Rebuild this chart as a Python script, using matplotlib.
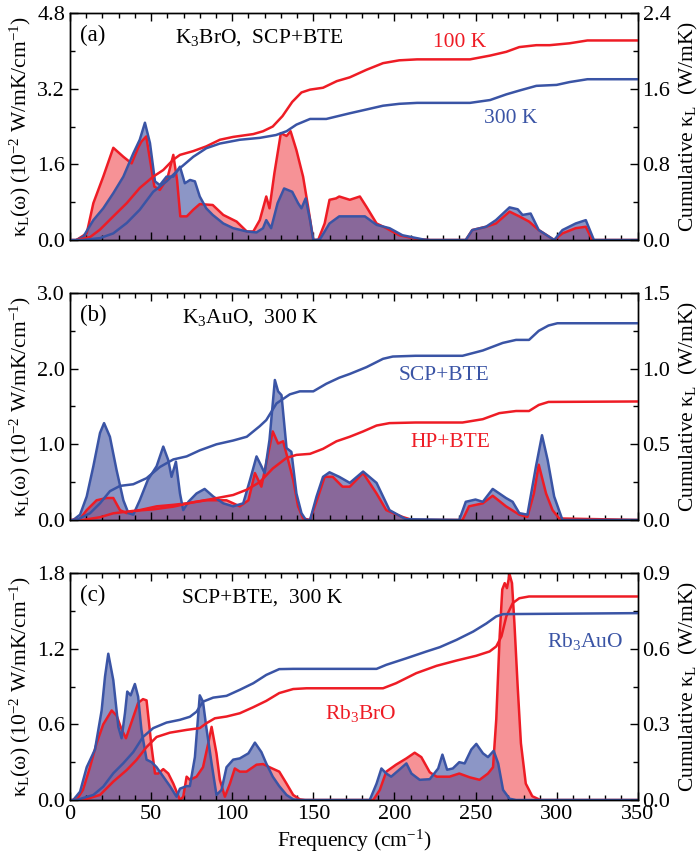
import numpy as np
import matplotlib
matplotlib.use("Agg")
import matplotlib.pyplot as plt
from matplotlib.ticker import MultipleLocator, FormatStrFormatter

plt.rcParams['font.family'] = ['Liberation Serif', 'DejaVu Serif']
plt.rcParams['mathtext.fontset'] = 'custom'
plt.rcParams['mathtext.rm'] = 'Liberation Serif'
plt.rcParams['mathtext.it'] = 'Liberation Serif:italic'

RED = '#EE1C25'
BLUE = '#3A54A5'

# ---- panel (a): K3BrO, SCP+BTE, 100 K (red) vs 300 K (blue) ----
a_red_f = [4, 10.3, 14.4, 20.5, 26.7, 32.9, 38, 42, 44, 47, 52, 55.4, 60, 63.7, 66, 68, 72, 76, 80, 88,
           94.5, 102.7, 109, 113, 117, 121, 123, 126, 130, 133.5, 136, 139.6, 143.7, 146.8, 150, 153,
           157, 160, 164, 166, 172.5, 178.7, 182.8, 189, 195, 203, 214, 222, 244, 248, 256.5, 262.6,
           271, 277, 283, 289, 298.5, 303.6, 311.8, 318, 322, 350]
a_red_k = [0, 0.14, 0.78, 1.34, 1.95, 1.76, 1.62, 1.95, 2.08, 2.19, 1.13, 1.06, 1.3, 1.8, 1.27, 0.5, 0.5,
           0.64, 0.76, 0.74, 0.53, 0.39, 0.18, 0.18, 0.42, 0.92, 0.67, 1.41, 2.26, 2.2, 2.3, 1.9, 1.34,
           0.7, 0, 0, 0.35, 0.85, 0.88, 0.92, 0.85, 0.92, 0.7, 0.35, 0.25, 0.1, 0.02, 0, 0, 0.21, 0.28,
           0.35, 0.6, 0.5, 0.39, 0.21, 0, 0.14, 0.25, 0.28, 0, 0]
a_blue_f = [4, 8.2, 14.4, 20.5, 26.7, 32.9, 39, 43, 46.2, 49.3, 52.4, 55.4, 59.5, 63.7, 67.8, 70.8, 74,
            77, 80, 84, 88, 94.5, 100.6, 109, 115, 119, 121, 124, 128, 132, 137, 140.6, 142.7, 145.3,
            148, 150, 154, 160, 166, 172.5, 181.8, 189, 197, 205, 218, 222, 244, 248, 256.5, 262.6,
            271, 276, 279, 284, 289, 298.5, 303.6, 311.8, 318, 323, 350]
a_blue_k = [0, 0.07, 0.42, 0.67, 0.99, 1.34, 1.83, 2.12, 2.48, 2.05, 1.24, 1.16, 1.34, 1.34, 1.55, 1.2,
            1.27, 1.24, 0.92, 0.67, 0.53, 0.35, 0.25, 0.18, 0.16, 0.25, 0.42, 0.25, 0.78, 1.09, 1.02,
            0.78, 0.67, 0.88, 0.42, 0, 0.01, 0.35, 0.5, 0.5, 0.5, 0.32, 0.25, 0.1, 0.01, 0, 0, 0.21,
            0.28, 0.42, 0.69, 0.65, 0.53, 0.56, 0.21, 0, 0.21, 0.35, 0.42, 0, 0]
a_red_cf = [0, 4, 12.3, 18.5, 26.7, 35, 43, 51.3, 57.5, 63.7, 67.8, 76, 84, 92.4, 100.6, 113, 119, 125,
            131, 137, 142.7, 148, 156, 164.5, 172.5, 182.8, 193, 203, 214, 226, 246.6, 259, 269, 277,
            287.5, 295.7, 308, 319, 350]
a_red_cum = [0, 0, 0.03, 0.11, 0.25, 0.39, 0.55, 0.67, 0.74, 0.85, 0.9, 0.94, 0.99, 1.06, 1.09, 1.12,
             1.15, 1.2, 1.31, 1.46, 1.56, 1.59, 1.61, 1.68, 1.72, 1.8, 1.87, 1.9, 1.91, 1.91, 1.91,
             1.95, 1.99, 2.04, 2.06, 2.06, 2.08, 2.11, 2.11]
a_blue_cf = [0, 8, 18.5, 26.7, 35, 43, 51.3, 59.5, 67.8, 76, 84, 92.4, 104.7, 117, 127, 133.5, 139.6,
             148, 158, 172.5, 182.8, 193, 203, 214, 246.6, 259, 269, 277, 287.5, 300, 308, 319, 350]
a_blue_cum = [0, 0, 0.02, 0.07, 0.18, 0.32, 0.51, 0.62, 0.76, 0.88, 0.97, 1.02, 1.06, 1.08, 1.11, 1.15,
              1.22, 1.28, 1.28, 1.34, 1.38, 1.42, 1.44, 1.45, 1.45, 1.48, 1.54, 1.58, 1.63, 1.64,
              1.67, 1.70, 1.70]

# ---- panel (b): K3AuO, 300 K, SCP+BTE (blue) vs HP+BTE (red) ----
b_blue_f = [2, 6.2, 10.3, 14.4, 18.5, 21, 24.6, 28.7, 32.9, 36, 39, 43, 48, 53.4, 57.5, 60.6, 62.6,
            65.3, 67.8, 69.8, 73, 78, 83, 88.3, 94.5, 100.6, 106.8, 111, 115, 118, 120, 123, 126.3,
            128.3, 130.4, 133.5, 136.5, 139.6, 142.7, 145.4, 148, 152, 156, 160, 166, 172.5, 180.7,
            189, 197, 207, 240, 244, 250, 254.5, 260.6, 268.8, 272.9, 277, 282, 287.3, 291, 294.5,
            298.5, 303.6, 350]
b_blue_k = [0, 0.07, 0.31, 0.71, 1.15, 1.28, 1.1, 0.66, 0.26, 0.09, 0.07, 0.26, 0.53, 0.71, 0.97, 0.79,
            0.57, 0.77, 0.35, 0.13, 0.24, 0.35, 0.41, 0.31, 0.22, 0.18, 0.22, 0.53, 0.84, 0.71, 0.62,
            1.06, 1.85, 1.70, 1.65, 0.95, 0.9, 0.35, 0.09, 0, 0, 0.31, 0.57, 0.63, 0.57, 0.49, 0.64,
            0.49, 0.13, 0.01, 0, 0.24, 0.27, 0.24, 0.41, 0.29, 0.24, 0.09, 0.07, 0.71, 1.12, 0.79,
            0.31, 0, 0]
b_red_f = [2, 6, 10.3, 16.4, 22.6, 26.7, 30.8, 35, 43, 53.4, 63.7, 71.9, 84, 96.5, 104.7, 110, 114,
           118, 121, 125, 128.3, 131.4, 134.5, 137.6, 140.6, 143.7, 148, 153, 157, 162, 168, 172.5,
           180.7, 189, 195, 205, 211, 242, 246, 254.5, 260.6, 268.8, 277, 282, 286, 289, 293.5,
           297.5, 301.6, 350]
b_red_k = [0, 0.01, 0.13, 0.26, 0.29, 0.29, 0.13, 0.09, 0.13, 0.18, 0.2, 0.22, 0.26, 0.26, 0.18, 0.26,
           0.62, 0.44, 0.75, 1.17, 1.01, 1.04, 0.79, 0.53, 0.18, 0.02, 0, 0.31, 0.57, 0.57, 0.44,
           0.44, 0.62, 0.35, 0.13, 0.04, 0, 0, 0.18, 0.22, 0.32, 0.18, 0.07, 0.04, 0.35, 0.73, 0.35,
           0.13, 0.02, 0]
b_blue_cf = [0, 4, 12.3, 18.5, 24.6, 30.8, 39, 47.2, 55.4, 63.7, 71.9, 80, 90.3, 100.6, 109, 117, 121,
             127.3, 135.5, 141.7, 150, 158, 166, 172.5, 182.8, 193, 199, 213, 242, 254.5, 266.8, 275,
             283, 289, 295, 300.5, 350]
b_blue_cum = [0, 0, 0.044, 0.11, 0.19, 0.225, 0.236, 0.276, 0.35, 0.40, 0.42, 0.46, 0.50, 0.525,
              0.55, 0.62, 0.66, 0.77, 0.83, 0.85, 0.85, 0.90, 0.94, 0.965, 1.01, 1.065, 1.08, 1.085,
              1.085, 1.12, 1.17, 1.19, 1.19, 1.25, 1.285, 1.30, 1.30]
b_red_cf = [0, 8, 18.5, 26.7, 39, 51.3, 63.7, 76, 88.3, 100.6, 109, 117, 125, 133.5, 139.6, 148, 156,
            164.3, 172.5, 180.7, 189, 197, 213, 242, 254.5, 264.7, 275, 283, 289, 295, 350]
b_red_cum = [0, 0, 0.018, 0.044, 0.06, 0.07, 0.088, 0.117, 0.14, 0.165, 0.2, 0.25, 0.34, 0.41, 0.43,
             0.437, 0.47, 0.52, 0.55, 0.585, 0.624, 0.64, 0.644, 0.644, 0.666, 0.706, 0.72, 0.72,
             0.76, 0.78, 0.783]

# ---- panel (c): SCP+BTE, 300 K, Rb3AuO (blue) vs Rb3BrO (red) ----
c_blue_f = [2, 6.2, 10.3, 15.4, 19.5, 21.6, 23.6, 26.7, 29.8, 31.8, 33.9, 35.3, 37.4, 40, 42, 44, 47.2,
            50.3, 53.4, 57.5, 61.6, 65.7, 67.8, 71.9, 73.9, 77, 80, 82, 84, 87.3, 90.3, 93.4, 96.5,
            100.6, 104.7, 110, 114, 118, 121, 125, 129, 133.5, 137.6, 141, 184.8, 189, 192, 195, 198,
            203, 207.4, 210.5, 215.6, 221.8, 227, 229.6, 232.5, 236, 240, 243.3, 247.4, 250.5, 254.6,
            257.7, 261.2, 264, 267, 271, 275, 350]
c_blue_k = [0, 0.066, 0.26, 0.40, 0.71, 0.98, 1.16, 0.95, 0.58, 0.49, 0.69, 0.86, 0.83, 0.92, 0.82,
            0.56, 0.32, 0.30, 0.26, 0.185, 0.11, 0.026, 0.09, 0.11, 0.11, 0.34, 0.83, 0.78, 0.58,
            0.29, 0.04, 0.08, 0.26, 0.32, 0.33, 0.37, 0.455, 0.38, 0.29, 0.185, 0.11, 0.04, 0.005, 0,
            0, 0.13, 0.25, 0.21, 0.185, 0.24, 0.29, 0.21, 0.16, 0.165, 0.25, 0.36, 0.24, 0.25, 0.30,
            0.29, 0.40, 0.445, 0.37, 0.34, 0.39, 0.29, 0.08, 0.01, 0, 0]
c_red_f = [4, 8, 12.3, 16.4, 20.5, 25.7, 28.7, 31.8, 34.5, 38, 42, 45, 47.2, 50.3, 52.4, 54.4, 57.5,
           60.6, 63.7, 67.8, 69.8, 71.9, 73.9, 78, 82, 85.4, 87.3, 90.3, 92.4, 95.5, 98.6, 101.6,
           104.7, 108.8, 115, 119, 123, 129, 133.5, 137.6, 141.7, 145, 187, 191, 195, 201, 207.4,
           212.5, 216.6, 221.8, 226, 234, 240, 246.4, 252.5, 257.7, 260.8, 262.8, 264.9, 266.5, 268,
           269.4, 271, 272.5, 274, 276, 278, 281, 285, 290, 350]
c_red_k = [0, 0.08, 0.26, 0.45, 0.60, 0.71, 0.67, 0.56, 0.49, 0.62, 0.77, 0.80, 0.79, 0.42, 0.21, 0.21,
           0.245, 0.21, 0.13, 0, 0.026, 0.185, 0.16, 0.185, 0.26, 0.46, 0.58, 0.37, 0.16, 0.026, 0.13,
           0.25, 0.225, 0.225, 0.28, 0.285, 0.26, 0.225, 0.13, 0.04, 0.005, 0, 0, 0.08, 0.225, 0.28,
           0.33, 0.375, 0.34, 0.22, 0.185, 0.185, 0.21, 0.18, 0.16, 0.21, 0.26, 0.64, 1.30, 1.67,
           1.72, 1.68, 1.79, 1.72, 1.40, 0.90, 0.45, 0.13, 0.03, 0, 0]
c_blue_cf = [0, 4, 14.4, 20.5, 26.7, 32.9, 39, 45, 51.3, 59.5, 67.8, 73.9, 78, 82, 88.3, 96.5, 104.7,
             113, 121, 129, 137.6, 189, 195, 207.4, 219.8, 228, 238.3, 248.6, 256.7, 262.8, 267, 350]
c_blue_cum = [0, 0, 0.02, 0.053, 0.106, 0.146, 0.19, 0.25, 0.285, 0.307, 0.318, 0.33, 0.35, 0.39,
              0.406, 0.413, 0.437, 0.463, 0.496, 0.519, 0.52, 0.52, 0.536, 0.562, 0.589, 0.606,
              0.635, 0.668, 0.70, 0.728, 0.737, 0.741]
c_red_cf = [0, 8, 18.5, 26.7, 35, 41, 47.2, 53.4, 61.6, 71.9, 80, 84, 89.3, 96.5, 104.7, 113, 121,
            129, 137.6, 145.8, 193, 201, 213.5, 226, 238.3, 250.5, 258.7, 262.8, 266, 269, 273, 277,
            283, 350]
c_red_cum = [0, 0, 0.02, 0.073, 0.119, 0.159, 0.21, 0.25, 0.267, 0.278, 0.285, 0.304, 0.324, 0.331,
             0.344, 0.368, 0.393, 0.424, 0.44, 0.443, 0.443, 0.463, 0.503, 0.532, 0.553, 0.572,
             0.589, 0.609, 0.649, 0.728, 0.781, 0.80, 0.807, 0.807]

panels = [
    dict(red=(a_red_f, a_red_k), blue=(a_blue_f, a_blue_k),
         rcum=(a_red_cf, a_red_cum), bcum=(a_blue_cf, a_blue_cum),
         ylim=4.8, ymaj=1.6, ymin=0.8, rlim=2.4, rmaj=0.8, rmin=0.4),
    dict(red=(b_red_f, b_red_k), blue=(b_blue_f, b_blue_k),
         rcum=(b_red_cf, b_red_cum), bcum=(b_blue_cf, b_blue_cum),
         ylim=3.0, ymaj=1.0, ymin=0.5, rlim=1.5, rmaj=0.5, rmin=0.25),
    dict(red=(c_red_f, c_red_k), blue=(c_blue_f, c_blue_k),
         rcum=(c_red_cf, c_red_cum), bcum=(c_blue_cf, c_blue_cum),
         ylim=1.8, ymaj=0.6, ymin=0.3, rlim=0.9, rmaj=0.3, rmin=0.15),
]

fig = plt.figure(figsize=(7.0, 8.63), dpi=100)
bottoms = [0.7219, 0.3975, 0.073]
ylabel = 'κ$_\\mathrm{L}$(ω) (10$^{-2}$ W/mK/cm$^{-1}$)'
rlabel = 'Cumulative κ$_\\mathrm{L}$  (W/mK)'
TICK = 16
LAB = 15.5
LW = 1.8

axes = []
for i, p in enumerate(panels):
    ax = fig.add_axes([0.1, bottoms[i], 0.811, 0.263])
    rf, rk = p['red']
    bf, bk = p['blue']
    ax.fill_between(rf, rk, 0, color=RED, alpha=0.48, lw=0)
    ax.plot(rf, rk, color=RED, lw=LW)
    ax.fill_between(bf, bk, 0, color='#3A4A9E', alpha=0.58, lw=0)
    ax.plot(bf, bk, color=BLUE, lw=LW)
    ax.set_xlim(0, 350)
    ax.set_ylim(0, p['ylim'])
    ax.xaxis.set_major_locator(MultipleLocator(50))
    ax.xaxis.set_minor_locator(MultipleLocator(10))
    ax.yaxis.set_major_locator(MultipleLocator(p['ymaj']))
    ax.yaxis.set_minor_locator(MultipleLocator(p['ymin']))
    ax.yaxis.set_major_formatter(FormatStrFormatter('%.1f'))
    ax.tick_params(which='both', direction='in', top=True, right=False, labelsize=TICK)
    ax.tick_params(which='major', length=6, width=1)
    ax.tick_params(which='minor', length=3.5, width=1)
    ax.set_ylabel(ylabel, fontsize=LAB, labelpad=3)
    if i < 2:
        ax.set_xticklabels([])
    else:
        ax.set_xlabel('Frequency (cm$^{-1}$)', fontsize=LAB, labelpad=3)

    ax2 = ax.twinx()
    cf, cv = p['rcum']
    ax2.plot(cf, cv, color=RED, lw=LW)
    cf, cv = p['bcum']
    ax2.plot(cf, cv, color=BLUE, lw=LW)
    ax2.set_ylim(0, p['rlim'])
    ax2.yaxis.set_major_locator(MultipleLocator(p['rmaj']))
    ax2.yaxis.set_minor_locator(MultipleLocator(p['rmin']))
    ax2.yaxis.set_major_formatter(FormatStrFormatter('%.1f'))
    ax2.tick_params(which='both', direction='in', labelsize=TICK)
    ax2.tick_params(which='major', length=6, width=1)
    ax2.tick_params(which='minor', length=3.5, width=1)
    ax2.set_ylabel(rlabel, fontsize=LAB, labelpad=5)
    for a in (ax, ax2):
        for s in a.spines.values():
            s.set_linewidth(1.0)
    axes.append(ax)

fs = 15.5
# panel (a) texts
axes[0].text(0.018, 0.9, '(a)', transform=axes[0].transAxes, fontsize=16.5, va='center')
axes[0].text(0.185, 0.89, 'K$_3$BrO,  SCP+BTE', transform=axes[0].transAxes, fontsize=fs, va='center')
axes[0].text(0.64, 0.87, '100 K', transform=axes[0].transAxes, fontsize=fs, color=RED, va='center')
axes[0].text(0.73, 0.535, '300 K', transform=axes[0].transAxes, fontsize=fs, color=BLUE, va='center')
# panel (b) texts
axes[1].text(0.018, 0.9, '(b)', transform=axes[1].transAxes, fontsize=16.5, va='center')
axes[1].text(0.198, 0.89, 'K$_3$AuO,  300 K', transform=axes[1].transAxes, fontsize=fs, va='center')
axes[1].text(0.578, 0.635, 'SCP+BTE', transform=axes[1].transAxes, fontsize=fs, color=BLUE, va='center')
axes[1].text(0.6, 0.34, 'HP+BTE', transform=axes[1].transAxes, fontsize=fs, color=RED, va='center')
# panel (c) texts
axes[2].text(0.018, 0.9, '(c)', transform=axes[2].transAxes, fontsize=16.5, va='center')
axes[2].text(0.198, 0.89, 'SCP+BTE,  300 K', transform=axes[2].transAxes, fontsize=fs, va='center')
axes[2].text(0.45, 0.38, 'Rb$_3$BrO', transform=axes[2].transAxes, fontsize=fs, color=RED, va='center')
axes[2].text(0.84, 0.7, 'Rb$_3$AuO', transform=axes[2].transAxes, fontsize=fs, color=BLUE, va='center')

fig.savefig('out.png', dpi=100)
